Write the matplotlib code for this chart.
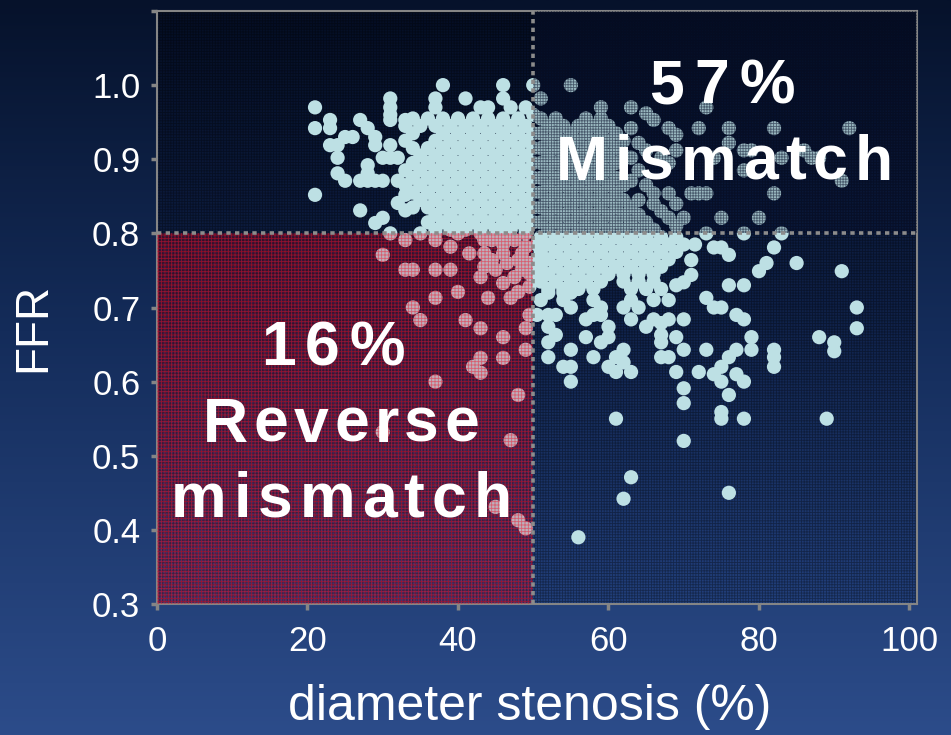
import numpy as np
import matplotlib
matplotlib.use("Agg")
import matplotlib.pyplot as plt
from matplotlib.colors import LinearSegmentedColormap
from matplotlib.patches import Rectangle
from matplotlib.font_manager import FontProperties, findfont, get_font

plt.rcParams['font.family'] = ['Liberation Sans', 'DejaVu Sans']
plt.rcParams['hatch.linewidth'] = 0.6

W, H, DPI = 951, 735, 100

# ---------------- data: (FFR, [diameter stenosis %, ...]) rows ----------------
ul_sparse = [
    (1.00, [38, 46, 50]),
    (0.982, [31, 37, 41, 46]),
    (0.97, [21, 31, 37, 43, 44, 47, 49]),
    (0.96, [31, 50]),
    (0.953, [23, 27, 31, 33]),
    (0.942, [21, 23, 28]),
    (0.93, [25, 26, 29]),
    (0.919, [23, 24, 29, 31]),
    (0.902, [24, 30, 31, 32]),
    (0.892, [28]),
    (0.881, [24, 28]),
    (0.871, [25, 27, 28, 29, 30, 32]),
    (0.852, [21, 33]),
    (0.841, [32]),
    (0.835, [34]),
    (0.831, [27, 33]),
    (0.821, [30]),
    (0.814, [29]),
    (0.80, [31, 35, 37, 40, 43, 46, 49]),
]

ul_dense = [
    (0.955, [34, 36, 38, 40, 42, 44, 46, 48]),
    (0.945, [33, 35, 37, 39, 41, 43, 45, 47, 49]),
    (0.935, [34, 38, 40, 42, 44, 46, 48, 50]),
    (0.925, [33, 37, 39, 41, 43, 45, 47, 49]),
    (0.915, [34, 36, 38, 40, 42, 44, 46, 48, 50]),
    (0.905, [35, 37, 39, 41, 43, 45, 47, 49]),
    (0.895, [34, 36, 38, 40, 42, 44, 46, 48, 50]),
    (0.885, [33, 35, 37, 39, 41, 43, 45, 47, 49]),
    (0.875, [34, 36, 38, 40, 42, 44, 46, 48, 50]),
    (0.865, [33, 35, 37, 39, 41, 43, 45, 47, 49]),
    (0.855, [34, 36, 38, 40, 42, 44, 46, 48, 50]),
    (0.845, [35, 37, 39, 41, 43, 45, 47, 49]),
    (0.835, [36, 38, 40, 42, 44, 46, 48, 50]),
    (0.825, [37, 39, 41, 43, 45, 47, 49]),
    (0.815, [36, 38, 40, 42, 44, 46, 48, 50]),
    (0.805, [37, 39, 41, 43, 45, 47, 49]),
]

ll_points = [
    (0.791, [33, 37, 43.5, 44.5, 47.5]),
    (0.785, [46]),
    (0.782, [39, 49]),
    (0.773, [41.5, 43.5, 46, 48.5]),
    (0.771, [30]),
    (0.764, [44.5, 48]),
    (0.76, [46.5, 49.5]),
    (0.755, [43.5]),
    (0.751, [33, 34, 37, 39, 45, 48.5]),
    (0.746, [49.5]),
    (0.741, [43, 47.5]),
    (0.733, [46]),
    (0.728, [49.5]),
    (0.721, [40, 48]),
    (0.713, [37, 44, 47]),
    (0.70, [34]),
    (0.69, [49.5]),
    (0.683, [35, 41]),
    (0.672, [43, 49]),
    (0.66, [46]),
    (0.643, [49]),
    (0.632, [43, 46]),
    (0.62, [42]),
    (0.612, [43]),
    (0.60, [37]),
    (0.582, [48]),
    (0.532, [30]),
    (0.521, [47]),
    (0.431, [45]),
    (0.413, [48]),
    (0.402, [49]),
]

ur_dense = [
    (0.955, [51, 53, 57, 59]),
    (0.945, [52, 54, 56, 58, 60]),
    (0.935, [51, 53, 55, 57, 59, 61]),
    (0.925, [52, 54, 56, 58, 60, 62]),
    (0.915, [51, 53, 55, 57, 59, 61]),
    (0.905, [52, 54, 56, 58, 60, 62]),
    (0.895, [51, 53, 55, 57, 59, 61]),
    (0.885, [52, 54, 56, 58, 60]),
    (0.875, [51, 53, 55, 57, 59, 61]),
    (0.865, [52, 54, 56, 58, 60, 62]),
    (0.855, [51, 53, 55, 57, 59, 61]),
    (0.845, [52, 54, 56, 58, 60, 62]),
    (0.835, [51, 53, 55, 57, 59, 61, 63]),
    (0.825, [52, 54, 56, 58, 60, 62, 64]),
    (0.815, [51, 53, 55, 57, 59, 61, 63, 65]),
    (0.805, [52, 54, 56, 58, 60, 62, 64, 66]),
]

ur_sparse = [
    (1.00, [55]),
    (0.982, [51]),
    (0.97, [59, 63, 73]),
    (0.962, [65]),
    (0.953, [66]),
    (0.942, [63, 68, 72, 76, 82, 92]),
    (0.933, [69]),
    (0.922, [64, 76]),
    (0.912, [65, 69, 78, 79, 86]),
    (0.902, [63, 67, 74, 83, 87, 88]),
    (0.895, [68]),
    (0.885, [64, 78]),
    (0.871, [63, 91]),
    (0.865, [65]),
    (0.854, [66, 68, 71, 72, 73, 82]),
    (0.845, [64]),
    (0.84, [66, 69]),
    (0.83, [67]),
    (0.821, [68, 70, 75, 80]),
    (0.81, [69]),
]

lr_dense = [
    (0.795, [51, 53, 55, 57, 59, 61, 63, 65, 67, 69]),
    (0.785, [50.5, 52, 54, 56, 58, 60, 62, 64, 66, 68, 70, 71.5]),
    (0.775, [51, 53, 55, 57, 59, 61, 63, 65, 67, 69]),
    (0.765, [50.5, 52, 54, 56, 58, 60, 62, 64, 66, 68]),
    (0.755, [51, 53, 55, 57, 59, 61, 63, 65, 67]),
    (0.745, [50.5, 52, 54, 56, 58, 60, 62, 64, 66]),
    (0.735, [51, 53, 55, 57, 59, 62, 64, 66]),
    (0.725, [52, 54, 56, 58, 63, 65, 67]),
    (0.71, [51, 54, 58, 63, 66, 68]),
    (0.70, [55, 59, 62, 64]),
]

lr_sparse = [
    (0.80, [73, 78, 83]),
    (0.781, [74, 75, 82]),
    (0.771, [76]),
    (0.764, [71]),
    (0.76, [81, 85]),
    (0.749, [80, 91]),
    (0.744, [71]),
    (0.734, [70]),
    (0.73, [69, 76, 78]),
    (0.72, [52, 54, 55]),
    (0.713, [73]),
    (0.70, [74, 75, 93]),
    (0.69, [50.5, 52, 53, 58, 59, 77]),
    (0.684, [57, 63, 66, 68, 70, 78]),
    (0.679, [67]),
    (0.674, [52, 60, 65]),
    (0.672, [93]),
    (0.663, [53, 67]),
    (0.66, [57, 60, 69, 79, 88]),
    (0.653, [52, 59, 67, 90]),
    (0.643, [55, 62, 70, 73, 77, 79, 82]),
    (0.641, [90]),
    (0.633, [52, 58, 61, 67, 68, 76, 82]),
    (0.626, [62]),
    (0.62, [54, 55, 60, 75, 82]),
    (0.613, [61, 63, 69, 72]),
    (0.61, [74, 77]),
    (0.60, [55, 75, 78]),
    (0.591, [70]),
    (0.582, [76]),
    (0.571, [70]),
    (0.559, [75]),
    (0.55, [61, 75, 78, 89]),
    (0.52, [70]),
    (0.471, [63]),
    (0.45, [76]),
    (0.442, [62]),
    (0.39, [56]),
]

x_ticks = [0, 20, 40, 60, 80, 100]
x_labels = ["0", "20", "40", "60", "80", "100"]
y_ticks = [0.3, 0.4, 0.5, 0.6, 0.7, 0.8, 0.9, 1.0, 1.1]
y_labels = ["0.3", "0.4", "0.5", "0.6", "0.7", "0.8", "0.9", "1.0", ""]
ds_cut, ffr_cut = 50, 0.8

# ---------------- helpers ----------------
def flatten(groups):
    xs, ys = [], []
    for rows in groups:
        for f, dlist in rows:
            for d in dlist:
                xs.append(d)
                ys.append(f)
    return np.array(xs, float), np.array(ys, float)

ds, ffr = flatten([ul_sparse, ul_dense, ll_points, ur_dense, ur_sparse, lr_dense, lr_sparse])

fig = plt.figure(figsize=(W / DPI, H / DPI), dpi=DPI)

# figure background gradient
bg = fig.add_axes([0, 0, 1, 1], zorder=0)
fig_cmap = LinearSegmentedColormap.from_list(
    "figbg", [(0, "#06122b"), (0.45, "#142c5a"), (1.0, "#2c4c8a")])
bg.imshow(np.linspace(0, 1, 256).reshape(-1, 1), cmap=fig_cmap, aspect="auto",
          extent=(0, 1, 0, 1), origin="upper")
bg.set_axis_off()

ax = fig.add_axes([157 / W, (H - 604) / H, 760 / W, 593 / H], zorder=1)
ax.set_facecolor("none")

ax_cmap = LinearSegmentedColormap.from_list(
    "axbg", [(0, "#050e24"), (0.5, "#0f2148"), (1.0, "#22407c")])
ax.imshow(np.linspace(0, 1, 256).reshape(-1, 1), cmap=ax_cmap, aspect="auto",
          extent=(0, 101, 0.3, 1.1), origin="upper", zorder=0)
ax.add_patch(Rectangle((0, 0.3), 101, 0.8, facecolor="none",
                       edgecolor=(0, 0, 0, 0.35), hatch="++++++", lw=0, zorder=1))

ax.scatter(ds, ffr, s=105, c="#bde0e4", edgecolors="none", zorder=2)

# reverse mismatch region (red overlay)
ax.add_patch(Rectangle((0, 0.3), ds_cut, ffr_cut - 0.3,
                       facecolor=(0.75, 0.03, 0.18, 0.22), edgecolor="none", lw=0, zorder=3))
ax.add_patch(Rectangle((0, 0.3), ds_cut, ffr_cut - 0.3, facecolor="none",
                       edgecolor=(0.95, 0.06, 0.15, 0.5), hatch="+++++", lw=0, zorder=3))
# mismatch region (dark textured overlay)
ax.add_patch(Rectangle((ds_cut, ffr_cut), 51, 0.3,
                       facecolor=(0.02, 0.05, 0.15, 0.18), edgecolor="none", lw=0, zorder=3))
ax.add_patch(Rectangle((ds_cut, ffr_cut), 51, 0.3, facecolor="none",
                       edgecolor=(0.03, 0.06, 0.16, 0.55), hatch="++++++", lw=0, zorder=3))

ax.axvline(ds_cut, color="#8c8c8c", lw=2.6, ls=(0, (1.2, 1.2)), zorder=4)
ax.axhline(ffr_cut, color="#8c8c8c", lw=2.6, ls=(0, (1.2, 1.2)), zorder=4)

ax.set_xlim(0, 101)
ax.set_ylim(0.3, 1.1)
ax.set_xticks(x_ticks)
ax.set_xticklabels(x_labels)
ax.set_yticks(y_ticks)
ax.set_yticklabels(y_labels)
for sp in ax.spines.values():
    sp.set_color("#858585")
    sp.set_linewidth(1.5)
ax.tick_params(direction="out", length=4, width=2.5, color="#858585",
               labelcolor="white", labelsize=25)
ax.tick_params(axis="x", pad=11)
ax.tick_params(axis="y", pad=8)

ax.set_xlabel("diameter stenosis (%)", color="white", fontsize=36)
ax.xaxis.set_label_coords((530 - 157) / 760, -(707 - 604) / 593)
ax.xaxis.label.set_va("center")
ax.set_ylabel("FFR", color="white", fontsize=33)
ax.yaxis.set_label_coords((33 - 157) / 760, (604 - 327) / 593)
ax.yaxis.label.set_va("center")


def tracked(cx, base_y, s, size, track):
    fp = FontProperties(family="Liberation Sans", weight="bold", size=size)
    font = get_font(findfont(fp))
    font.set_size(size, DPI)
    advs = [font.load_char(ord(c)).linearHoriAdvance / 65536 for c in s]
    total = sum(advs) + track * (len(s) - 1)
    x = cx - total / 2
    for c, a in zip(s, advs):
        fig.text((x + a / 2) / W, (H - base_y) / H, c, fontproperties=fp,
                 color="white", ha="center", va="baseline", zorder=10)
        x += a + track


tracked(722, 103, "57%", 45, 10)
tracked(724, 180, "Mismatch", 45, 7)
tracked(333, 365, "16%", 45, 9)
tracked(341, 442, "Reverse", 45, 5.5)
tracked(341, 517, "mismatch", 45, 7)

fig.savefig("out.png", dpi=DPI)
